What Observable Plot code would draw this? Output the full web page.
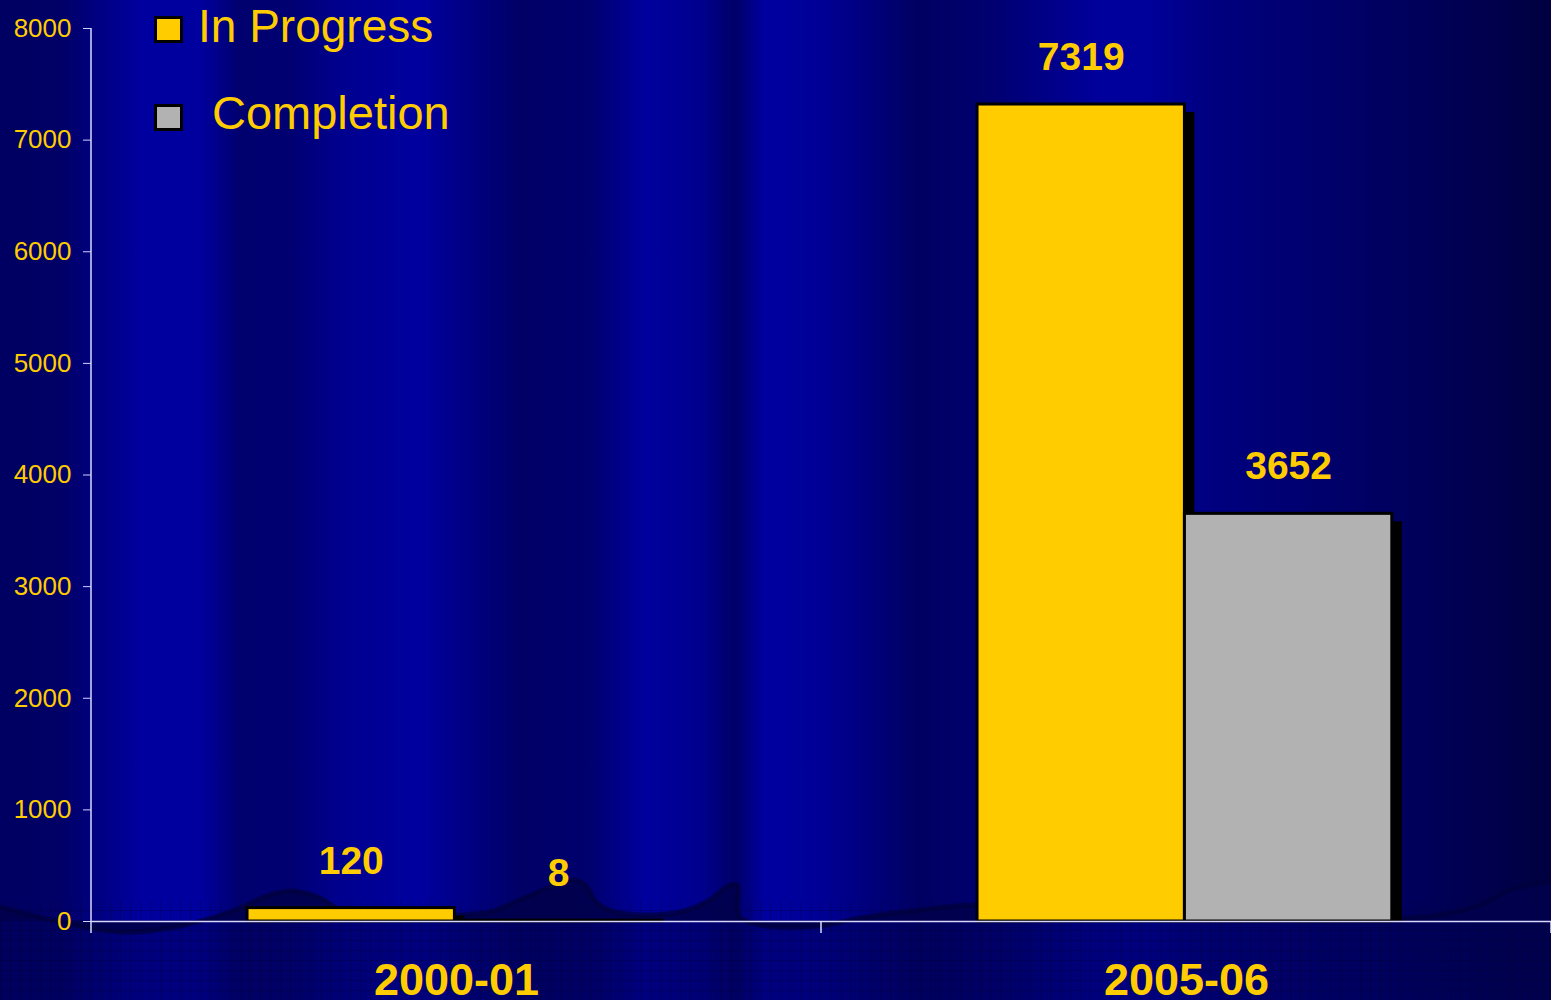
<!DOCTYPE html>
<html>
<head>
<meta charset="utf-8">
<script src="https://cdn.jsdelivr.net/npm/d3@7"></script>
<script src="https://cdn.jsdelivr.net/npm/@observablehq/plot@0.6"></script>
<style>
  html, body { margin: 0; padding: 0; background: #000066; }
  #wrap { position: relative; width: 1551px; height: 1000px; overflow: hidden; font-family: "Liberation Sans", Arial, sans-serif; }
  #bg { position: absolute; left: 0; top: 0; }
  #chart { position: absolute; left: 0; top: 0; }
  #chart svg { display: block; }
  .legend-item { position: absolute; color: #ffcc00; white-space: nowrap; line-height: 1; }
  .swatch { position: absolute; box-sizing: border-box; border: 3px solid #000; }
</style>
</head>
<body>
<div id="wrap">
  <svg id="bg" width="1551" height="1000"></svg>
  <div id="chart"></div>
  <div class="swatch" style="left:154px;top:16px;width:29px;height:27px;background:#ffcc00"></div>
  <div class="legend-item" style="left:198px;top:3px;font-size:46px">In Progress</div>
  <div class="swatch" style="left:154px;top:104px;width:29px;height:27px;background:#b2b2b2"></div>
  <div class="legend-item" style="left:212px;top:89px;font-size:47px">Completion</div>
</div>
<script>
// ---- data ----
const categories = ["2000-01", "2005-06"];
const series = ["In Progress", "Completion"];
const inProgress = [120, 7319];
const completion = [8, 3652];
const yTicks = [0, 1000, 2000, 3000, 4000, 5000, 6000, 7000, 8000];
const seriesColors = ["#ffcc00", "#b2b2b2"];

const data = categories.flatMap((c, i) => [
  {category: c, series: series[0], value: inProgress[i]},
  {category: c, series: series[1], value: completion[i]}
]);

// ---- background (decorative) ----
const W = 1551, H = 1000, axisY = 921;
const bg = d3.select("#bg");
const defs = bg.append("defs");
const grad = defs.append("linearGradient").attr("id", "bands").attr("x1", 0).attr("x2", 1).attr("y1", 0).attr("y2", 0);
[[0, "#000062"], [60, "#000066"], [95, "#000080"], [140, "#00009e"], [200, "#00009e"], [240, "#00006e"],
 [290, "#000072"], [340, "#00008e"], [420, "#00009f"], [470, "#000082"], [520, "#000066"], [590, "#00006e"],
 [645, "#00009e"], [700, "#00008e"], [735, "#000068"], [765, "#0000a0"], [815, "#000098"], [920, "#000062"],
 [990, "#000070"], [1100, "#00009c"], [1150, "#00009a"], [1210, "#000080"], [1400, "#00005e"], [1551, "#000040"]]
  .forEach(([x, c]) => grad.append("stop").attr("offset", x / W).attr("stop-color", c));
const pat = defs.append("pattern").attr("id", "grid").attr("width", 10).attr("height", 10).attr("patternUnits", "userSpaceOnUse");
pat.append("path").attr("d", "M10 0 L0 0 0 10").attr("fill", "none").attr("stroke", "#00002a").attr("stroke-width", 1).attr("opacity", 0.55);
bg.append("rect").attr("width", W).attr("height", H).attr("fill", "url(#bands)");
bg.append("rect").attr("y", axisY).attr("width", W).attr("height", H - axisY).attr("fill", "#000058").attr("opacity", 0.45);
bg.append("rect").attr("y", axisY - 20).attr("width", W).attr("height", H - axisY + 20).attr("fill", "url(#grid)");
const wave = [[0,907],[60,922],[120,932],[170,928],[230,912],[270,895],[292,891],[318,897],[345,912],[420,918],[460,915],[490,912],
  [520,900],[555,885],[575,880],[586,886],[596,902],[615,912],[645,915],[680,912],[710,900],[728,886],[737,885],[739,916],
  [760,925],[820,926],[860,918],[920,910],[975,905],[1100,912],[1300,916],[1400,918],[1440,915],[1480,905],[1510,890],[1540,883],[1551,882]];
const line = d3.line().curve(d3.curveCatmullRom);
bg.append("path").attr("d", line(wave) + `L${W},${axisY}L0,${axisY}Z`).attr("fill", "#00004c").attr("opacity", 0.9);
bg.append("path").attr("d", line(wave)).attr("fill", "none").attr("stroke", "#00003c").attr("stroke-width", 5).attr("opacity", 0.7);

// ---- chart ----
const chart = Plot.plot({
  width: W, height: H,
  marginLeft: 90, marginRight: 0, marginTop: 28, marginBottom: 79,
  style: {background: "transparent", color: "#ffcc00", fontFamily: "'Liberation Sans', Arial, sans-serif", overflow: "visible"},
  fx: {domain: categories, padding: 0, label: null},
  x: {domain: series, paddingInner: 0, paddingOuter: 0.76, align: 0.495, round: false, axis: null},
  y: {domain: [0, 8000], label: null},
  color: {domain: series, range: seriesColors},
  marks: [
    Plot.barY(data, {fx: "category", x: "series", y: "value", fill: "black", dx: 10, dy: 8, insetBottom: 8}),
    Plot.barY(data, {fx: "category", x: "series", y: "value", fill: "series", stroke: "black", strokeWidth: 3}),
    Plot.ruleY([0], {stroke: "#d8d8ff", strokeWidth: 1.5}),
    Plot.text(data, {fx: "category", x: "series", y: "value", text: d => String(d.value), dy: -47,
      fontSize: 39, fontWeight: "bold", fill: "#ffcc00"}),
    Plot.axisY({ticks: yTicks, tickFormat: d3.format("d"), tickSize: 8, tickPadding: 12, fontSize: 26, stroke: "#d0d0ff", fill: "#ffcc00", label: null}),
    Plot.axisFx({anchor: "bottom", tickSize: 0, tickPadding: 42, fontSize: 45, fontWeight: "bold", fill: "#ffcc00", label: null})
  ]
});
document.getElementById("chart").appendChild(chart);

// axis lines and category boundary ticks, from the plot's own scales
const fx = chart.scale("fx"), y = chart.scale("y");
const svg = d3.select(chart);
const y0 = y.apply(0), yTop = y.apply(8000);
const first = fx.apply(categories[0]);
const g = svg.append("g").attr("stroke", "#d8d8ff").attr("stroke-width", 1.5);
g.append("line").attr("x1", first).attr("x2", first).attr("y1", yTop).attr("y2", y0);
const bounds = categories.map(c => fx.apply(c));
bounds.push(fx.apply(categories[categories.length - 1]) + fx.bandwidth);
bounds.forEach(b => g.append("line").attr("x1", b).attr("x2", b).attr("y1", y0).attr("y2", y0 + 12));
</script>
</body>
</html>
